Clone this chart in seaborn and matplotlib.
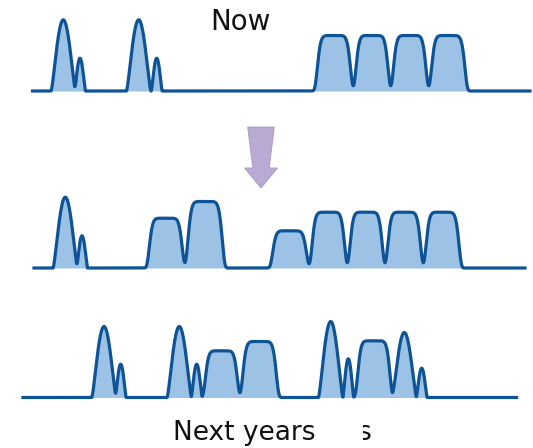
import numpy as np
import pandas as pd
import seaborn as sns
import matplotlib
matplotlib.use("Agg")
import matplotlib.pyplot as plt
from matplotlib.patches import Polygon, Rectangle

# ---- data (pixel-like frequency units; heights in px) ----
row_baselines = [91, 268, 397.5]
row_starts = [32.5, 34, 23]
row_ends = [530, 525, 516.5]

# narrow peaks: row index, centre, height, half-width at base
peak_rows = [0, 0, 0, 0, 1, 1, 2, 2, 2, 2, 2, 2, 2, 2]
peak_centers = [63.3, 80, 138.7, 156.7, 65.3, 82, 104, 120.7, 179.3, 196.7, 330.7, 348.3, 404.3, 421.7]
peak_heights = [71.2, 32.8, 71.2, 32.8, 70.8, 32.2, 71, 33.3, 71, 33.3, 76, 38.7, 65, 29.3]
peak_halfwidths = [12.3, 5.5, 12.3, 5.5, 12.3, 5.5, 12.3, 5.5, 12.3, 5.5, 12.3, 5.5, 12.3, 5.5]

# flat-top blocks: row index, left edge, right edge, height
block_rows = [0, 0, 0, 0, 1, 1, 1, 1, 1, 1, 1, 2, 2, 2]
block_lefts = [314.5, 353.3, 390.7, 428.7, 146.5, 185, 269.8, 309.3, 347.3, 385, 423.3, 202.7, 240, 355]
block_rights = [353.3, 390.7, 428.7, 467.8, 185, 225.2, 309.3, 347.3, 385, 423.3, 461.8, 240, 279.2, 392.7]
block_heights = [55.5, 55.5, 55.5, 55.5, 49.8, 66.5, 37.2, 55.8, 55.8, 55.8, 55.8, 46.7, 56, 56.7]

labels = ["Now", "Next years"]

FILL = "#9cc2e5"
LINE = "#0e5396"
ARROW = "#b9aad3"

fig = plt.figure(figsize=(5.33, 4.48), dpi=100)
ax = fig.add_axes([0, 0, 1, 1])

for r, (base, x0, x1) in enumerate(zip(row_baselines, row_starts, row_ends)):
    x = np.linspace(x0, x1, 4000)
    amp = np.zeros_like(x)
    for pr, c, h, w in zip(peak_rows, peak_centers, peak_heights, peak_halfwidths):
        if pr == r:
            u = np.clip((x - c) / w, -1, 1)
            amp += h * (1 - u ** 2) ** 1.5
    for br, l, rr, h in zip(block_rows, block_lefts, block_rights, block_heights):
        if br == r:
            c = (l + rr) / 2
            hw = (rr - l) / 2 * 0.87
            amp += h * np.exp(-np.abs((x - c) / hw) ** 8)
    y = base - amp
    ax.fill_between(x, base, y, color=FILL, lw=0, zorder=1)
    df = pd.DataFrame({"f": x, "a": y})
    sns.lineplot(data=df, x="f", y="a", ax=ax, color=LINE, linewidth=2.3,
                 estimator=None, sort=False, zorder=2)
ax.set_xlim(0, 533)
ax.set_ylim(448, 0)
ax.axis("off")

# arrow
cx = 261
arrow_pts = [(cx - 13.3, 127), (cx + 13.3, 127), (cx + 8.2, 168), (cx + 16.5, 168),
             (cx, 188), (cx - 16.5, 168), (cx - 8.2, 168)]
ax.add_patch(Polygon(arrow_pts, closed=True, facecolor=ARROW, edgecolor="#a898c4",
                     lw=0.6, zorder=3))

font = ["DejaVu Sans"]
ax.text(240, 22, labels[0], ha="center", va="center", fontsize=20, family=font, color="#111111")
ax.text(244, 433, labels[1], ha="center", va="center", fontsize=19, family=font, color="#111111")
ax.text(364.5, 433, "s", ha="center", va="center", fontsize=19, family=font, color="#111111")
ax.add_patch(Rectangle((345, 415), 18, 30, facecolor="white", edgecolor="none", zorder=5))

fig.savefig("out.png", dpi=100)
